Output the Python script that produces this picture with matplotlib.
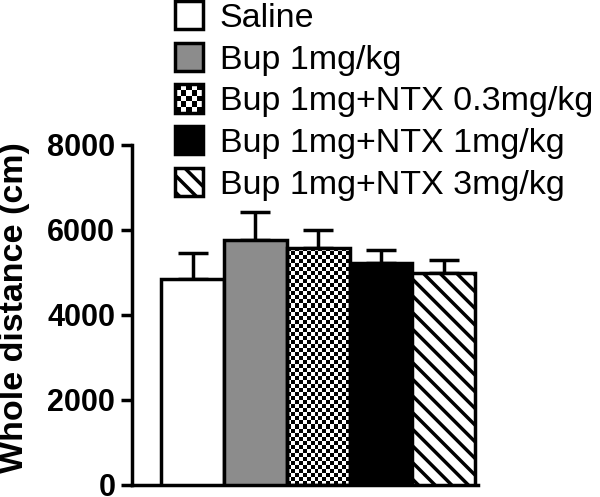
import numpy as np
import matplotlib.pyplot as plt
from matplotlib.patches import Rectangle
from matplotlib.legend_handler import HandlerBase

# data
groups = ["Saline", "Bup 1mg/kg", "Bup 1mg+NTX 0.3mg/kg",
          "Bup 1mg+NTX 1mg/kg", "Bup 1mg+NTX 3mg/kg"]
means = [4850, 5770, 5580, 5220, 4990]
sems = [610, 650, 430, 310, 310]
yticks = [0, 2000, 4000, 6000, 8000]

plt.rcParams['font.family'] = ['Liberation Sans', 'DejaVu Sans']
plt.rcParams['hatch.linewidth'] = 2.5

lw = 2.5


class CheckerHandler(HandlerBase):
    # draws a small checkerboard square as legend key
    def create_artists(self, legend, orig_handle, xdescent, ydescent,
                       width, height, fontsize, trans):
        arts = [Rectangle((-xdescent, -ydescent), width, height,
                          facecolor='white', edgecolor='none', transform=trans)]
        n = 5
        cw, ch = width / n, height / n
        for i in range(n):
            for j in range(n):
                if (i + j) % 2 == 0:
                    arts.append(Rectangle((-xdescent + i * cw, -ydescent + j * ch), cw, ch,
                                          facecolor='black', edgecolor='none', transform=trans))
        arts.append(Rectangle((-xdescent, -ydescent), width, height, facecolor='none',
                              edgecolor='black', lw=lw, transform=trans))
        return arts


fig = plt.figure(figsize=(6, 4.97), dpi=100)
ax = fig.add_axes([132 / 600, 1 - 485 / 497, (478 - 132) / 600, (485 - 145) / 497])

x = np.arange(len(groups))
facecolors = ['white', '#8c8c8c', 'none', 'black', 'white']
hatches = [None, None, None, None, '\\\\']

bars = ax.bar(x, means, width=1.0, color=facecolors, edgecolor='black',
              linewidth=lw, zorder=3)
for b, h in zip(bars, hatches):
    b.set_hatch(h)

ax.errorbar(x, means, yerr=[np.zeros(len(x)), sems], fmt='none', ecolor='black',
            elinewidth=lw, capsize=11, capthick=lw, zorder=2)

xlim = (-0.97, 4.55)
ylim = (0, 8000)
ax.set_xlim(*xlim)
ax.set_ylim(*ylim)

# checkerboard texture for the third bar
b = bars[2]
x0, w, h = b.get_x(), b.get_width(), b.get_height()
p0 = ax.transData.transform((x0, 0))
p1 = ax.transData.transform((x0 + w, h))
nx = int(round((p1[0] - p0[0]) / 4))
ny = int(round((p1[1] - p0[1]) / 4))
tex = np.indices((ny, nx)).sum(axis=0) % 2
im = ax.imshow(tex, cmap='gray', extent=(x0, x0 + w, 0, h), aspect='auto',
               interpolation='nearest', zorder=2.5)
im.set_clip_path(b)
ax.set_xlim(*xlim)
ax.set_ylim(*ylim)

ax.spines['top'].set_visible(False)
ax.spines['right'].set_visible(False)
ax.spines['left'].set_linewidth(lw)
ax.spines['bottom'].set_linewidth(lw)
ax.set_xticks([])
ax.set_yticks(yticks)
ax.tick_params(axis='y', direction='out', length=8, width=lw, labelsize=22, pad=4)
for t in ax.get_yticklabels():
    t.set_fontweight('bold')

ax.set_ylabel('Whole distance (cm)', fontsize=24.5, fontweight='bold')
ax.yaxis.set_label_coords(30 / 600, 1 - 308 / 497, transform=fig.transFigure)

fig.legend(bars, groups, loc='upper left', bbox_to_anchor=(175 / 600, 1 - 1 / 497),
           frameon=False, fontsize=24.5, handlelength=0.82, handleheight=0.9,
           handletextpad=0.49, labelspacing=0.26, borderpad=0, borderaxespad=0,
           handler_map={bars[2]: CheckerHandler()})

fig.savefig('out.png', dpi=100)
